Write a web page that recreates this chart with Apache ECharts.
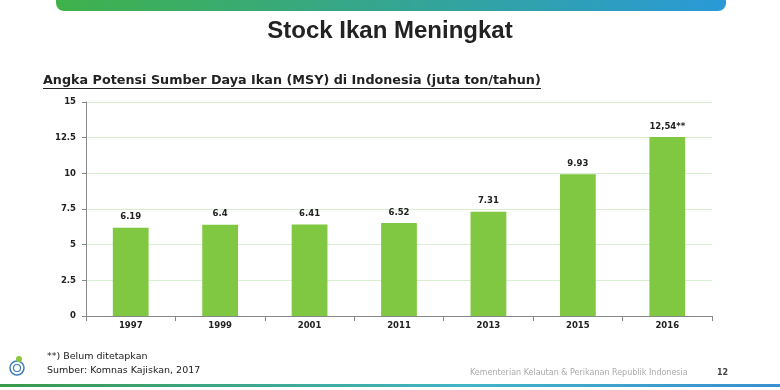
<!DOCTYPE html>
<html><head><meta charset="utf-8">
<script src="https://cdn.jsdelivr.net/npm/echarts@6/dist/echarts.min.js"></script>
<style>html,body{margin:0;padding:0;background:#fff}#c{width:780px;height:390px}</style>
</head><body><div id="c"></div>
<script>
const categories = ['1997','1999','2001','2011','2013','2015','2016'];
const values = [6.19, 6.4, 6.41, 6.52, 7.31, 9.93, 12.54];
const valueLabels = ['6.19','6.4','6.41','6.52','7.31','9.93','12,54**'];
const yTicks = [0, 2.5, 5, 7.5, 10, 12.5, 15];

const chart = echarts.init(document.getElementById('c'));
const font = 'Liberation Sans, Arial, sans-serif';
const wide = 'DejaVu Sans, Verdana, sans-serif';
chart.setOption({
  animation: false,
  title: {
    text: 'Stock Ikan Meningkat', left: 'center', top: 14,
    textStyle: {fontFamily: font, fontSize: 24, fontWeight: 'bold', color: '#222'}
  },
  grid: {left: 86, right: 68, top: 102, bottom: 74},
  xAxis: {
    type: 'category', data: categories,
    axisLine: {lineStyle: {color: '#888'}},
    axisTick: {show: true, lineStyle: {color: '#888'}},
    axisLabel: {fontFamily: wide, fontSize: 8.5, fontWeight: 'bold', color: '#222', margin: 5}
  },
  yAxis: {
    type: 'value', min: 0, max: 15, interval: 2.5,
    axisLine: {show: true, lineStyle: {color: '#888'}},
    axisTick: {show: true, length: 4, lineStyle: {color: '#888'}},
    splitLine: {lineStyle: {color: '#d8efd2'}},
    axisLabel: {fontFamily: wide, fontSize: 8.5, fontWeight: 'bold', color: '#222', margin: 10,
      formatter: v => yTicks.includes(v) ? String(v) : ''}
  },
  series: [{
    type: 'bar', data: values, barWidth: '40%',
    itemStyle: {color: '#80c841'},
    label: {show: true, position: 'top', distance: 6, fontFamily: wide, fontSize: 8.5, fontWeight: 'bold', color: '#222',
      formatter: p => valueLabels[p.dataIndex]}
  }],
  graphic: [
    {type: 'rect', shape: {x: 56, y: -10, width: 670, height: 21, r: 8},
     style: {fill: new echarts.graphic.LinearGradient(0,0,1,0,[{offset:0,color:'#3fb14a'},{offset:1,color:'#2a9ad8'}])}},
    {type: 'text', left: 43, top: 74, style: {text: 'Angka Potensi Sumber Daya Ikan (MSY) di Indonesia (juta ton/tahun)',
      font: 'bold 12.75px ' + wide, fill: '#222'}},
    {type: 'rect', shape: {x: 43, y: 88, width: 498, height: 1}, style: {fill: '#222'}},
    {type: 'text', left: 47, top: 352, style: {text: '**) Belum ditetapkan', font: '9.5px ' + wide, fill: '#222'}},
    {type: 'text', left: 47, top: 366, style: {text: 'Sumber: Komnas Kajiskan, 2017', font: '9.5px ' + wide, fill: '#222'}},
    {type: 'text', left: 470, top: 369, style: {text: 'Kementerian Kelautan & Perikanan Republik Indonesia', font: '8px ' + wide, fill: '#aaa'}},
    {type: 'text', left: 717, top: 369, style: {text: '12', font: 'bold 8px ' + wide, fill: '#444'}},
    {type: 'rect', shape: {x: 0, y: 384, width: 780, height: 3},
     style: {fill: new echarts.graphic.LinearGradient(0,0,1,0,[{offset:0,color:'#3a9a4a'},{offset:0.6,color:'#41b4c8'},{offset:1,color:'#3a8fd0'}])}},
    {type: 'circle', shape: {cx: 17, cy: 368, r: 7}, style: {fill: 'none', stroke: '#3a7dc0', lineWidth: 1.5}},
    {type: 'circle', shape: {cx: 17, cy: 368, r: 3.5}, style: {fill: 'none', stroke: '#3a7dc0', lineWidth: 1.2}},
    {type: 'circle', shape: {cx: 19, cy: 359, r: 3}, style: {fill: '#8cc63f', stroke: 'none'}}
  ]
});
</script></body></html>
